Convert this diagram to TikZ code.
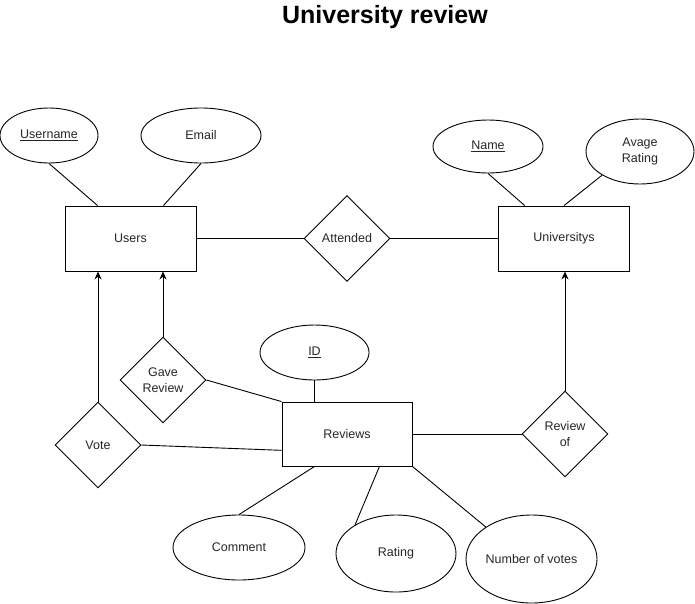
\documentclass[tikz,border=0pt]{standalone}
\usepackage{fontspec}
\setmainfont{Liberation Sans}
\usetikzlibrary{shapes.geometric,arrows.meta}

\begin{document}
\begin{tikzpicture}[x=1pt, y=-1pt, line width=0.9pt,
    every node/.style = {font=\fontsize{12.5}{15.5}\selectfont, align=center, inner sep=0pt, text=black!85},
    entity/.style = {draw, rectangle, minimum width=131pt, minimum height=65pt},
    attr/.style = {draw, ellipse},
    rel/.style = {draw, diamond, aspect=1, minimum width=86pt, minimum height=86pt},
    arr/.style = {-{Stealth[length=8pt,width=7pt]}}]
  \useasboundingbox (0,0) rectangle (695,603);

  \node[font=\fontsize{25}{30}\selectfont\bfseries, text=black] (title) at (385,17) {University review};

  % entities
  \node[entity] (users) at (130.5,238.5) {Users};
  \node[entity] (univ) at (564,238.5) {Universitys};
  \node[entity, minimum width=130pt, minimum height=64pt] (rev) at (347,434) {Reviews};

  % attributes of users
  \node[attr, minimum width=98pt, minimum height=55pt] (uname) at (49,135.5) {\underline{Username}};
  \node[attr, minimum width=120pt, minimum height=55pt] (email) at (201,135.5) {Email};
  % attributes of universitys
  \node[attr, minimum width=110pt, minimum height=53pt] (name) at (488,146.5) {\underline{Name}};
  \node[attr, minimum width=108pt, minimum height=65pt] (avg) at (640,151.5) {Avage\\Rating};
  % attributes of reviews
  \node[attr, minimum width=109pt, minimum height=55pt] (id) at (314.5,352.5) {\underline{ID}};
  \node[attr, minimum width=132pt, minimum height=65pt] (comment) at (239,547.5) {Comment};
  \node[attr, minimum width=120pt, minimum height=77pt] (rating) at (396,553.5) {Rating};
  \node[attr, minimum width=131pt, minimum height=88pt] (nov) at (531.5,559) {Number of votes};

  % relations
  \node[rel] (att) at (347,238.5) {Attended};
  \node[rel] (gave) at (163,380) {Gave\\Review};
  \node[rel] (vote) at (98,445) {Vote};
  \node[rel] (revof) at (565,434) {Review\\of};

  % attribute lines
  \draw (uname.south) -- (users.135);
  \draw (email.south) -- (users.45);
  \draw (name.south) -- (univ.140);
  \draw (avg.212) -- (univ.north);
  \draw (id.south) -- (id.south |- rev.north);
  \draw (comment.north) -- (rev.225);
  \draw (rating.145) -- (rev.-45);
  \draw (nov.145) -- (rev.south east);

  % relation lines
  \draw (users.east) -- (att.west);
  \draw (att.east) -- (univ.west);
  \draw (gave.east) -- (rev.north west);
  \draw (vote.east) -- (rev.194);
  \draw (rev.east) -- (revof.west);
  \draw[arr] (gave.north) -- (gave.north |- users.south);
  \draw[arr] (vote.north) -- (vote.north |- users.south);
  \draw[arr] (revof.north) -- (revof.north |- univ.south);
\end{tikzpicture}
\end{document}
